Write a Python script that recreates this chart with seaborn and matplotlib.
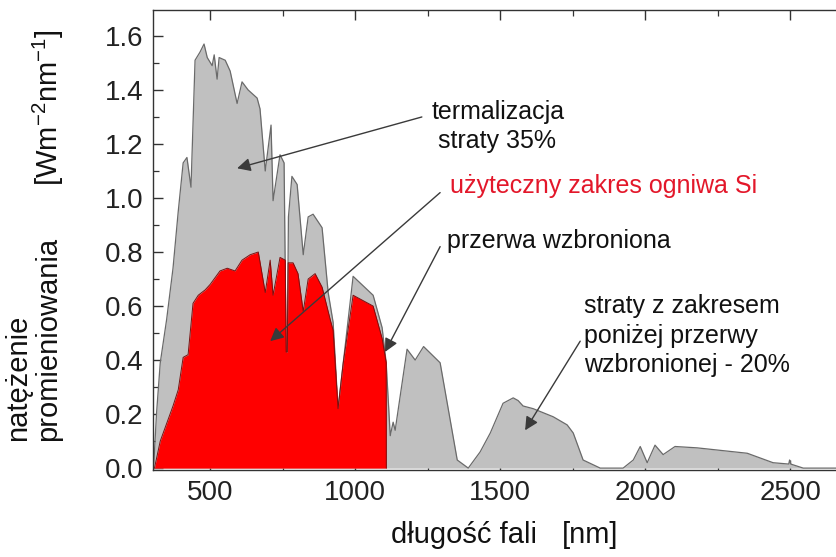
import matplotlib
matplotlib.use("Agg")
import matplotlib.pyplot as plt
import seaborn as sns
import pandas as pd

# ---- data ----
gray_nm = [303, 306, 315, 328, 350, 372, 390, 407, 420, 434, 448, 465, 479, 490, 507, 514,
           524, 531, 552, 569, 593, 610, 631, 662, 672, 690, 710, 717, 741, 755, 762, 766,
           770, 782, 800, 821, 838, 855, 886, 907, 924, 941, 959, 993, 1062, 1093, 1107,
           1121, 1131, 1138, 1179, 1207, 1236, 1293, 1352, 1390, 1431, 1466, 1510, 1545,
           1562, 1579, 1614, 1683, 1731, 1752, 1786, 1845, 1924, 1959, 1983, 2007, 2034,
           2062, 2103, 2179, 2352, 2441, 2495, 2498, 2502, 2545, 2660]
gray_val = [0.0, 0.02, 0.2, 0.39, 0.55, 0.74, 0.95, 1.13, 1.15, 1.04, 1.51, 1.54, 1.57, 1.52, 1.49, 1.53,
            1.44, 1.52, 1.51, 1.47, 1.35, 1.43, 1.40, 1.37, 1.33, 1.10, 1.27, 0.99, 1.16, 1.13, 0.43, 0.43,
            0.93, 1.08, 1.05, 0.79, 0.93, 0.94, 0.89, 0.65, 0.54, 0.22, 0.39, 0.71, 0.64, 0.52, 0.39,
            0.12, 0.17, 0.14, 0.44, 0.40, 0.45, 0.39, 0.03, 0.0, 0.06, 0.13, 0.24, 0.26,
            0.25, 0.23, 0.22, 0.19, 0.16, 0.13, 0.03, 0.0, 0.0, 0.03, 0.08, 0.02, 0.085,
            0.05, 0.08, 0.075, 0.055, 0.02, 0.015, 0.03, 0.015, 0.0, 0.0]

red_nm = [308, 328, 372, 390, 407, 424, 441, 459, 483, 500, 534, 559, 586, 610, 638, 666,
          690, 707, 717, 741, 759, 762, 766, 769, 786, 803, 821, 838, 862, 886, 914, 924,
          941, 959, 993, 1062, 1093, 1107, 1107.5]
red_val = [0.0, 0.10, 0.23, 0.29, 0.41, 0.42, 0.61, 0.64, 0.66, 0.68, 0.73, 0.74, 0.73, 0.77, 0.79, 0.80,
           0.65, 0.77, 0.64, 0.78, 0.77, 0.43, 0.43, 0.76, 0.76, 0.72, 0.58, 0.70, 0.72, 0.67, 0.55, 0.51,
           0.22, 0.39, 0.64, 0.60, 0.48, 0.39, 0.0]

x_ticks = [500, 1000, 1500, 2000, 2500]
y_ticks = [0.0, 0.2, 0.4, 0.6, 0.8, 1.0, 1.2, 1.4, 1.6]
y_tick_labels = ["0.0", "0.2", "0.4", "0.6", "0.8", "1.0", "1.2", "1.4", "1.6"]

# arrow heads and tails (nm, value)
arrow_heads = [(593, 1.11), (707, 0.47), (1103, 0.43), (1586, 0.14)]
arrow_tails = [(1230, 1.30), (1293, 1.02), (1293, 0.82), (1776, 0.47)]

# ---- style ----
sns.set_theme(style="ticks")
FONT = ["Liberation Sans", "DejaVu Sans"]
plt.rcParams["font.family"] = FONT
plt.rcParams["mathtext.fontset"] = "custom"
plt.rcParams["mathtext.rm"] = "Liberation Sans"
plt.rcParams["mathtext.it"] = "Liberation Sans"

W, H = 836, 557
fig = plt.figure(figsize=(W / 100, H / 100), dpi=100)
ax = fig.add_axes([153 / W, 87 / H, 1 - 153 / W, 460 / H])

gray_df = pd.DataFrame({"nm": gray_nm, "val": gray_val})
red_df = pd.DataFrame({"nm": red_nm, "val": red_val})

ax.fill_between(gray_df["nm"], 0, gray_df["val"], color="#c0c0c0", lw=0, zorder=1)
sns.lineplot(data=gray_df, x="nm", y="val", ax=ax, color="#6a6a6a", lw=0.9,
             sort=False, estimator=None, zorder=2)
ax.fill_between(red_df["nm"], 0, red_df["val"], color="#ff0000", lw=0, zorder=3)
sns.lineplot(data=red_df, x="nm", y="val", ax=ax, color="#7a1010", lw=0.7,
             sort=False, estimator=None, zorder=4)

ax.set_xlim(303, 2658)
ax.set_ylim(-0.007, 1.696)
ax.set_xticks(x_ticks)
ax.set_xticklabels([str(t) for t in x_ticks])
ax.set_xticks([750, 1250, 1750, 2250], minor=True)
ax.set_yticks(y_ticks)
ax.set_yticklabels(y_tick_labels)
ax.set_yticks([0.1, 0.3, 0.5, 0.7, 0.9, 1.1, 1.3, 1.5], minor=True)

ax.tick_params(axis="both", which="both", direction="in", top=True, right=False,
               colors="#333333", labelcolor="#222222")
ax.tick_params(axis="both", which="major", length=7, width=1.0, labelsize=20, pad=7)
ax.tick_params(axis="both", which="minor", length=4, width=0.9)
for s in ["left", "bottom", "top"]:
    ax.spines[s].set_color("#333333")
    ax.spines[s].set_linewidth(1.0)
ax.spines["right"].set_visible(False)
ax.set_xlabel("")
ax.set_ylabel("")

# axis labels
LBL = 21
fig.text(537 / W, 1 - 543 / H, "długość fali", ha="right", va="baseline",
         fontsize=LBL, color="#111111")
fig.text(562 / W, 1 - 543 / H, "[nm]", ha="left", va="baseline",
         fontsize=LBL, color="#111111")
fig.text(18 / W, 1 - 441 / H, "natężenie", rotation=90, ha="center", va="bottom",
         fontsize=LBL, color="#111111")
fig.text(48 / W, 1 - 441 / H, "promieniowania", rotation=90,
         ha="center", va="bottom", fontsize=LBL, color="#111111")
fig.text(48 / W, 1 - 186 / H, "[Wm$^{-2}$nm$^{-1}$]", rotation=90,
         ha="center", va="bottom", fontsize=LBL, color="#111111")

# arrows
for head, tail in zip(arrow_heads, arrow_tails):
    ax.annotate("", xy=head, xytext=tail, zorder=6,
                arrowprops=dict(arrowstyle="-|>", color="#3a3a3a", lw=1.0,
                                mutation_scale=20, shrinkA=0, shrinkB=0))

ANN = 18
ax.text(1262, 1.265, "termalizacja\n straty 35%", ha="left", va="center", fontsize=ANN,
        color="#111111", linespacing=1.3, zorder=7)
ax.text(1326, 1.045, "użyteczny zakres ogniwa Si", ha="left", va="center", fontsize=ANN,
        color="#e3172a", zorder=7)
ax.text(1316, 0.84, "przerwa wzbroniona", ha="left", va="center", fontsize=ANN,
        color="#111111", zorder=7)
ax.text(1790, 0.49, "straty z zakresem\nponiżej przerwy\nwzbronionej - 20%", ha="left",
        va="center", fontsize=ANN, color="#111111", linespacing=1.3, zorder=7)

fig.savefig("out.png", dpi=100)
